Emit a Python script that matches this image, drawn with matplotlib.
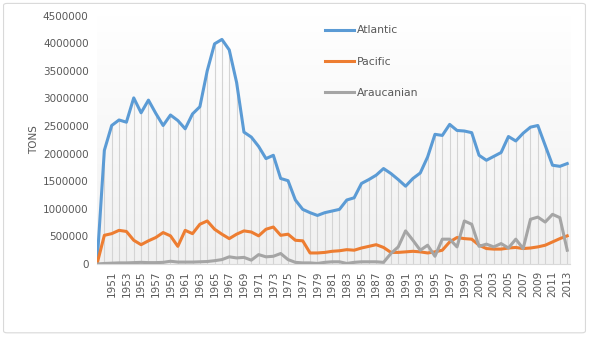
import numpy as np
import matplotlib
matplotlib.use("Agg")
import matplotlib.pyplot as plt
from matplotlib.patches import FancyBboxPatch

# ==========================
# Data (tons per year)
# ==========================

years = list(range(1949, 2014))

atlantic = [
    0, 2060000, 2510000, 2610000, 2570000, 3010000, 2740000, 2970000, 2730000, 2510000,
    2700000, 2600000, 2450000, 2720000, 2850000, 3500000, 3990000, 4070000, 3880000, 3290000,
    2390000, 2300000, 2130000, 1910000, 1970000, 1550000, 1510000, 1160000, 990000, 930000,
    880000, 930000, 960000, 990000, 1160000, 1200000, 1460000, 1530000, 1610000, 1730000,
    1640000, 1530000, 1410000, 1550000, 1650000, 1940000, 2350000, 2330000, 2530000, 2420000,
    2410000, 2380000, 1970000, 1880000, 1950000, 2020000, 2310000, 2230000, 2370000, 2480000,
    2510000, 2150000, 1790000, 1770000, 1820000,
]

pacific = [
    0, 520000, 550000, 610000, 590000, 430000, 350000, 420000, 480000, 570000,
    510000, 320000, 610000, 550000, 720000, 780000, 630000, 540000, 460000, 540000,
    600000, 580000, 510000, 630000, 670000, 520000, 540000, 430000, 420000, 200000,
    200000, 210000, 230000, 240000, 260000, 250000, 290000, 320000, 350000, 300000,
    210000, 210000, 220000, 230000, 220000, 200000, 220000, 250000, 400000, 480000,
    460000, 450000, 340000, 280000, 270000, 270000, 290000, 300000, 280000, 290000,
    310000, 340000, 400000, 460000, 510000,
]

araucanian = [
    0, 10000, 15000, 20000, 20000, 25000, 30000, 25000, 25000, 30000,
    50000, 35000, 35000, 35000, 40000, 45000, 60000, 80000, 130000, 110000,
    120000, 70000, 170000, 130000, 140000, 190000, 80000, 30000, 20000, 20000,
    10000, 30000, 40000, 40000, 10000, 30000, 40000, 40000, 40000, 30000,
    190000, 310000, 600000, 430000, 250000, 340000, 140000, 450000, 450000, 310000,
    780000, 720000, 320000, 360000, 310000, 370000, 290000, 450000, 280000, 810000,
    850000, 760000, 900000, 840000, 250000,
]

tick_years = list(range(1951, 2014, 2))

# ==========================
# Figure
# ==========================

fig = plt.figure(figsize=(5.89, 3.41), dpi=100)
ax = fig.add_axes([0.1647, 0.2258, 0.8033, 0.7282])

# chart border
fig.patches.append(FancyBboxPatch(
    (0.006, 0.024), 0.988, 0.966,
    boxstyle="round,pad=0,rounding_size=0.006",
    transform=fig.transFigure, fill=False,
    edgecolor="#d9d9d9", linewidth=0.8
))

# plot area gradient (white at top, light gray at bottom)
grad = np.linspace(1, 0, 256).reshape(-1, 1)
ax.imshow(
    grad, cmap=matplotlib.colors.LinearSegmentedColormap.from_list(
        "bg", ["#f0f0f0", "#ffffff"]),
    extent=[1949, 2013.4, 0, 4500000], aspect="auto", zorder=0
)

# drop lines
top = np.maximum.reduce([atlantic, pacific, araucanian])
ax.vlines(years, 0, top, color="#d4d4d4", linewidth=0.8, zorder=1)

ax.plot(years, atlantic, color="#5b9bd5", linewidth=2.2, label="Atlantic", zorder=3)
ax.plot(years, pacific, color="#ed7d31", linewidth=2.2, label="Pacific", zorder=3)
ax.plot(years, araucanian, color="#a5a5a5", linewidth=2.2, label="Araucanian", zorder=3)

ax.set_xlim(1949, 2013.4)
ax.set_ylim(0, 4500000)

ax.set_yticks(range(0, 4500001, 500000))
ax.set_yticklabels([str(v) for v in range(0, 4500001, 500000)])
ax.set_xticks(tick_years)
ax.set_xticklabels([str(y) for y in tick_years], rotation=90)

ax.tick_params(axis="both", length=0, labelsize=7.5, labelcolor="#595959")
ax.tick_params(axis="x", pad=5)
ax.tick_params(axis="y", pad=6)

for side in ["top", "right", "left"]:
    ax.spines[side].set_visible(False)
ax.spines["bottom"].set_color("#d9d9d9")

ax.set_ylabel("TONS", fontsize=7.5, color="#595959", labelpad=3)

leg = ax.legend(
    loc="upper left", bbox_to_anchor=(0.462, 1.0),
    frameon=False, fontsize=7.8, labelspacing=1.95,
    handlelength=2.6, handletextpad=0.3
)
for t in leg.get_texts():
    t.set_color("#595959")

fig.savefig("out.png", dpi=100)
